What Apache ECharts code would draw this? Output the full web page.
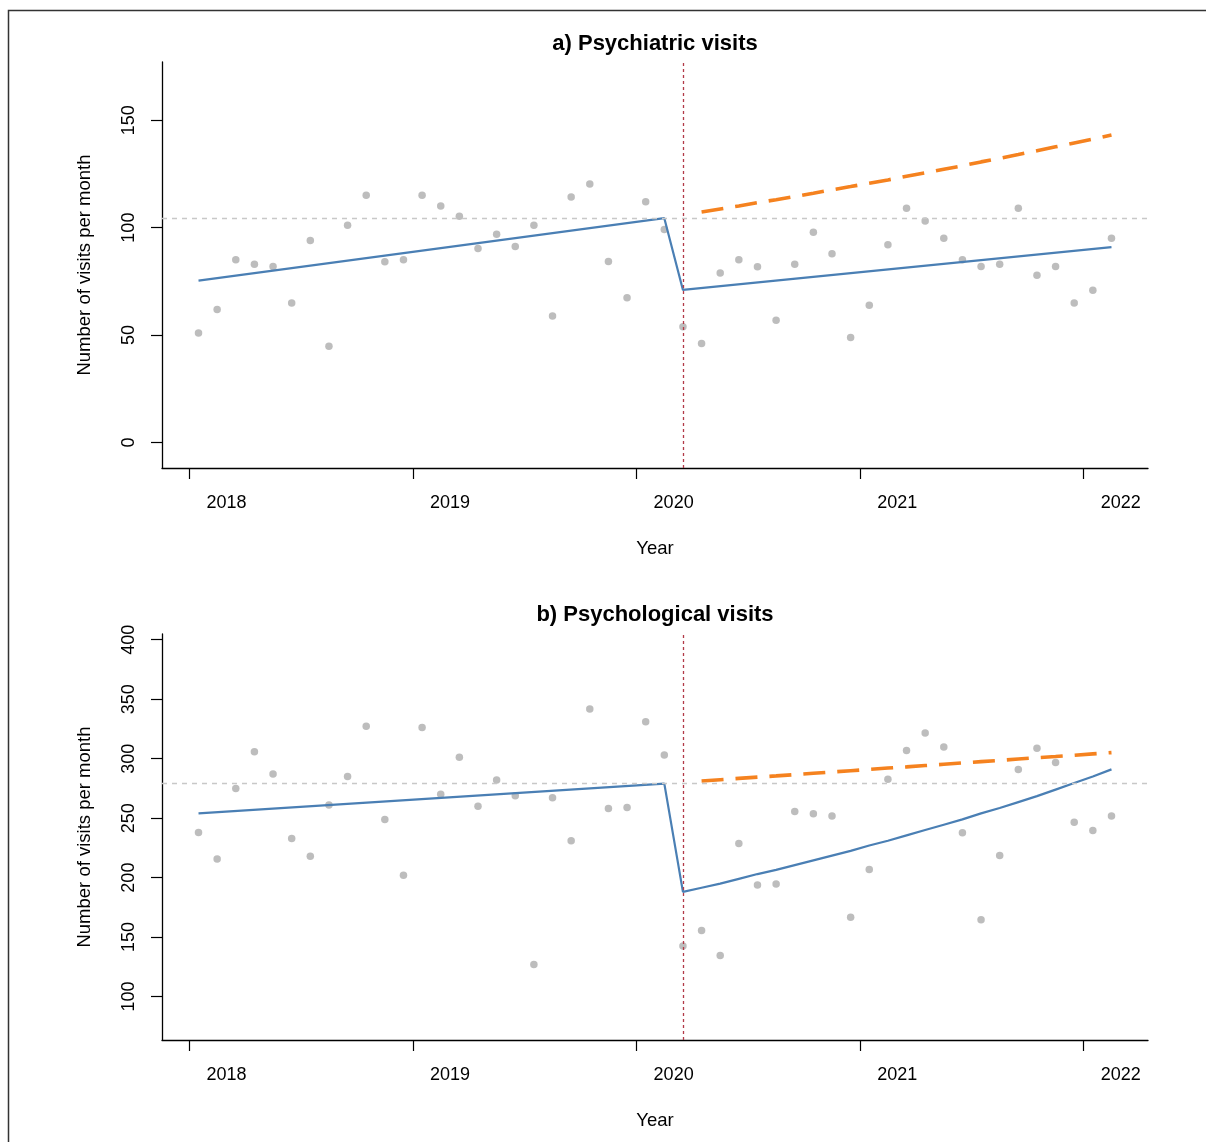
<!DOCTYPE html>
<html>
<head>
<meta charset="utf-8">
<script src="https://cdn.jsdelivr.net/npm/echarts@6/dist/echarts.min.js"></script>
<style>
html,body{margin:0;padding:0;background:#fff;}
#chart{width:1206px;height:1142px;}
</style>
</head>
<body>
<div id="chart"></div>
<script>
// ---------- DATA ----------
const yearLabels = ['2018', '2019', '2020', '2021', '2022'];
const interventionMonth = 27;

// monthly observed counts (month 1 .. 50)
const psychiatricVisits = [51.0, 61.9, 85.0, 82.9, 81.9, 64.9, 94.0, 44.8, 101.1, 115.1,
  84.1, 85.0, 115.1, 110.1, 105.3, 90.3, 96.9, 91.2, 101.1, 58.9,
  114.2, 120.3, 84.2, 67.3, 112.0, 99.1, 53.9, 46.0, 78.9, 85.0,
  81.8, 56.9, 82.9, 97.9, 87.8, 48.9, 63.9, 92.0, 109.0, 103.1,
  95.0, 85.0, 81.9, 82.9, 109.0, 77.8, 81.9, 64.9, 70.9, 95.0];

const psychologicalVisits = [237.9, 215.7, 275.0, 305.9, 287.1, 232.9, 218.0, 261.0, 285.1, 327.3,
  248.9, 202.0, 326.1, 270.0, 301.1, 260.1, 282.0, 268.8, 127.0, 267.1,
  230.9, 341.8, 258.2, 259.0, 331.1, 303.1, 142.5, 155.6, 134.6, 228.7,
  193.9, 194.7, 255.6, 253.7, 251.7, 166.6, 206.8, 282.6, 306.8, 321.6,
  309.8, 237.7, 164.6, 218.6, 290.8, 308.7, 296.7, 246.6, 239.6, 251.7];

// fitted segmented model, panel a
const fitAMonths = [1, 26, 27, 50];
const fitAValues = [75.3, 104.4, 71.0, 90.9];

// fitted segmented model, panel b
const fitBPreMonths = [1, 26];
const fitBPreValues = [254.0, 279.0];
const fitBPostValues = [188.0, 191.5, 195.0, 199.0, 203.0, 206.5, 210.5, 214.5, 218.5, 222.5,
  227.0, 231.0, 235.5, 240.0, 244.5, 249.0, 254.0, 258.5, 263.5, 268.5, 274.0, 279.5, 285.0, 291.0]; // months 27..50

// counterfactual (no interruption), months 28..50
const counterfactualA = [107.3, 108.7, 110.1, 111.6, 113.0, 114.5, 116.0, 117.6, 119.1, 120.7,
  122.2, 123.9, 125.5, 127.2, 128.8, 130.6, 132.3, 134.0, 135.8, 137.6, 139.4, 141.2, 143.1];
const counterfactualB = [281.2, 282.3, 283.4, 284.5, 285.5, 286.6, 287.7, 288.8, 289.9, 291.0,
  292.1, 293.1, 294.2, 295.3, 296.4, 297.5, 298.6, 299.7, 300.8, 301.8, 302.9, 304.0, 305.1];

// baseline level at end of pre-period
const baselineA = 104.4;
const baselineB = 279.0;

const yTicksA = [0, 50, 100, 150];
const yTicksB = [100, 150, 200, 250, 300, 350, 400];

// ---------- BUILD ----------
const FONT = '"Liberation Sans", Arial, Helvetica, sans-serif';
const months = psychiatricVisits.map((_, i) => i + 1);
const pairs = (xs, ys) => ys.map((v, i) => [xs[i], v]);
const tickPos = yearLabels.map((_, i) => i * 12 + 0.5);
const labelPos = yearLabels.map((_, i) => i * 12 + 2.5);
const postMonths = fitBPostValues.map((_, i) => interventionMonth + i);
const cfMonths = counterfactualA.map((_, i) => interventionMonth + 1 + i);

function xAxisFor(gi) {
  return {
    type: 'value', gridIndex: gi, min: -0.96, max: 51.96,
    splitLine: { show: false },
    axisLine: { show: true, onZero: false, lineStyle: { color: '#000', width: 1.3 } },
    axisTick: { show: true, customValues: tickPos, length: 11, lineStyle: { color: '#000', width: 1.2 } },
    axisLabel: {
      show: true, customValues: labelPos, margin: 26,
      fontFamily: FONT, fontSize: 18, color: '#000',
      formatter: v => yearLabels[Math.round((v - 2.5) / 12)]
    },
    name: 'Year', nameLocation: 'middle', nameGap: 71,
    nameTextStyle: { fontFamily: FONT, fontSize: 18.5, color: '#000' }
  };
}
function yAxisFor(gi, min, max, ticks) {
  return {
    type: 'value', gridIndex: gi, min: min, max: max,
    splitLine: { show: false },
    axisLine: { show: true, onZero: false, lineStyle: { color: '#000', width: 1.3 } },
    axisTick: { show: true, customValues: ticks, length: 11, lineStyle: { color: '#000', width: 1.2 } },
    axisLabel: {
      show: true, customValues: ticks, rotate: 90, margin: 24,
      fontFamily: FONT, fontSize: 18, color: '#000'
    },
    name: 'Number of visits per month', nameLocation: 'middle', nameGap: 68, nameRotate: 90,
    nameTextStyle: { fontFamily: FONT, fontSize: 18.5, color: '#000' }
  };
}
function refLines(baseline) {
  return {
    silent: true, symbol: 'none', animation: false,
    label: { show: false },
    data: [
      { yAxis: baseline, lineStyle: { color: '#c8c8c8', type: [5, 5], width: 1.3 } },
      { xAxis: interventionMonth, lineStyle: { color: '#b23a48', type: [3, 3], width: 1.3 } }
    ]
  };
}
const scatterStyle = { color: '#adadad' };
const blue = '#4a7fb4', orange = '#f5821f';

const option = {
  animation: false,
  backgroundColor: '#fff',
  title: [
    { text: 'a) Psychiatric visits', left: 650, top: 28, textAlign: 'center',
      textStyle: { fontFamily: FONT, fontSize: 22, fontWeight: 'bold', color: '#000' } },
    { text: 'b) Psychological visits', left: 650, top: 599, textAlign: 'center',
      textStyle: { fontFamily: FONT, fontSize: 22, fontWeight: 'bold', color: '#000' } }
  ],
  graphic: [
    { type: 'polyline', silent: true,
      shape: { points: [[8.5, 1142], [8.5, 10.5], [1206, 10.5]] },
      style: { stroke: '#333', lineWidth: 1.5, fill: null } }
  ],
  grid: [
    { left: 162, top: 62, width: 986, height: 406 },
    { left: 162, top: 634, width: 986, height: 406 }
  ],
  xAxis: [xAxisFor(0), xAxisFor(1)],
  yAxis: [yAxisFor(0, -11.9, 177.1, yTicksA), yAxisFor(1, 63.5, 404.8, yTicksB)],
  series: [
    { type: 'scatter', xAxisIndex: 0, yAxisIndex: 0, symbolSize: 7.5, itemStyle: scatterStyle,
      data: pairs(months, psychiatricVisits), markLine: refLines(baselineA), z: 2 },
    { type: 'line', xAxisIndex: 0, yAxisIndex: 0, symbol: 'none',
      lineStyle: { color: blue, width: 2.2 }, data: pairs(fitAMonths, fitAValues), z: 3 },
    { type: 'line', xAxisIndex: 0, yAxisIndex: 0, symbol: 'none',
      lineStyle: { color: orange, width: 3.6, type: [22, 12] }, data: pairs(cfMonths, counterfactualA), z: 3 },

    { type: 'scatter', xAxisIndex: 1, yAxisIndex: 1, symbolSize: 7.5, itemStyle: scatterStyle,
      data: pairs(months, psychologicalVisits), markLine: refLines(baselineB), z: 2 },
    { type: 'line', xAxisIndex: 1, yAxisIndex: 1, symbol: 'none',
      lineStyle: { color: blue, width: 2.2 },
      data: pairs(fitBPreMonths, fitBPreValues).concat(pairs(postMonths, fitBPostValues)), z: 3 },
    { type: 'line', xAxisIndex: 1, yAxisIndex: 1, symbol: 'none',
      lineStyle: { color: orange, width: 3.6, type: [22, 12] }, data: pairs(cfMonths, counterfactualB), z: 3 }
  ]
};

const chart = echarts.init(document.getElementById('chart'), null, { renderer: 'canvas' });
chart.setOption(option);
</script>
</body>
</html>
